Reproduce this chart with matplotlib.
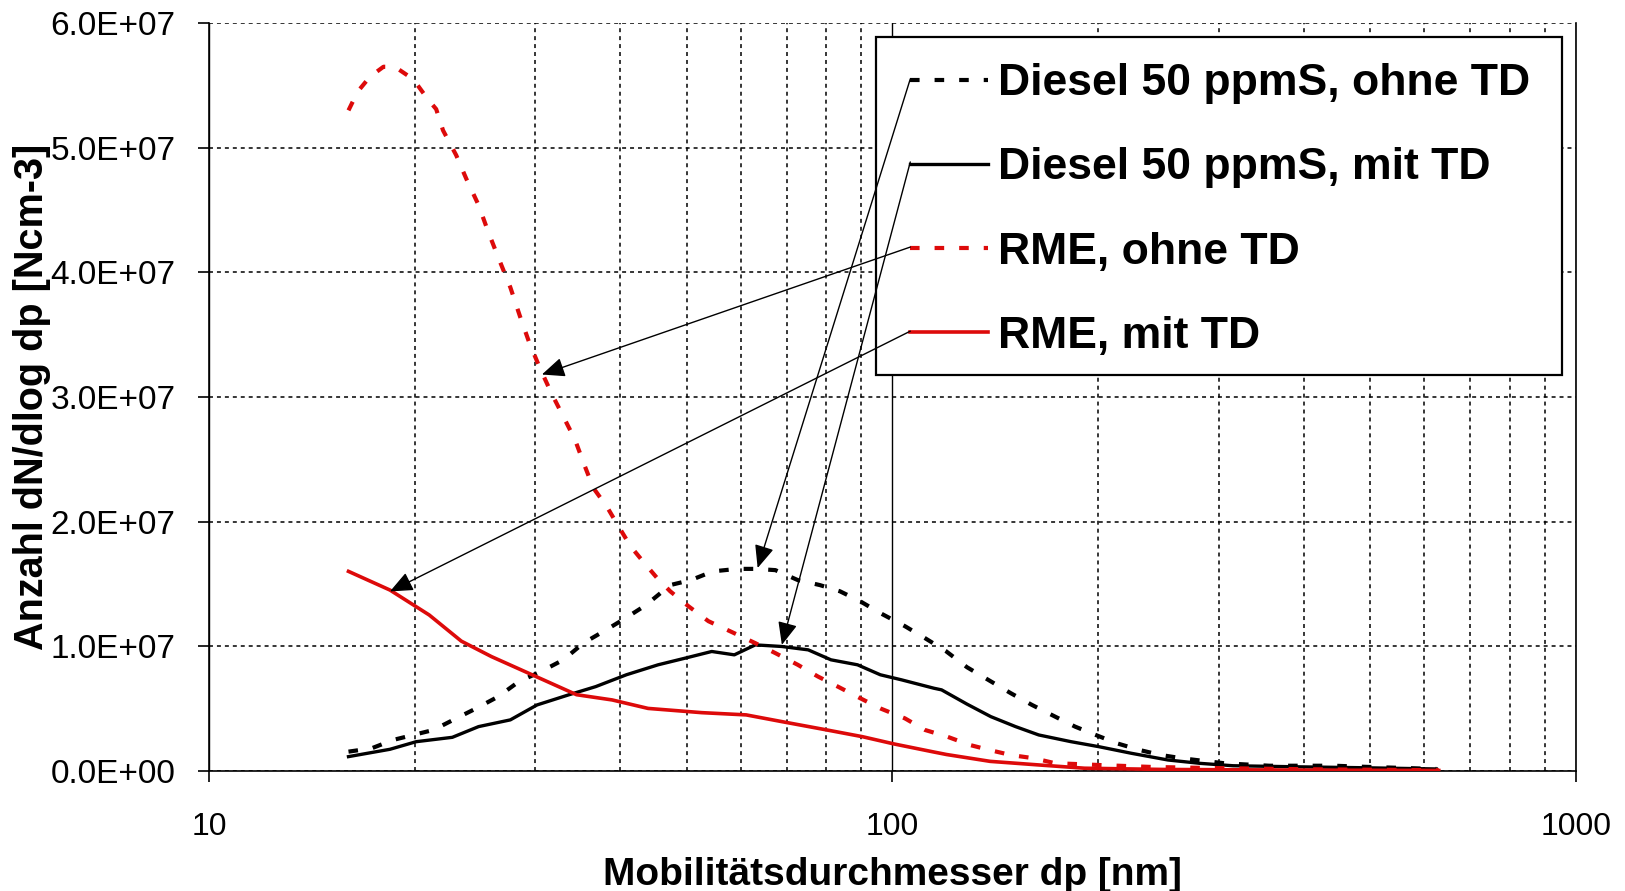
import matplotlib
matplotlib.use('Agg')
import matplotlib.pyplot as plt
from matplotlib.patches import Rectangle
from matplotlib.ticker import FuncFormatter, LogLocator, NullFormatter

plt.rcParams['font.family'] = ['Liberation Sans', 'DejaVu Sans']

# Diesel 50 ppmS, ohne TD
dp_diesel_ohne = [16.0, 17.3, 18.6, 19.9, 21.3, 23.0, 24.6, 26.5, 28.4, 30.6,
                  33.0, 35.3, 38.1, 40.7, 43.6, 47.3, 50.7, 54.6, 59.3, 63.0,
                  67.4, 72.7, 78.3, 83.8, 89.7, 96.0, 104.3, 111.6, 119.6, 128.6,
                  138.8, 149, 160, 173, 185, 200, 213, 230, 247, 265,
                  284, 307, 356, 443, 487, 625]
n_diesel_ohne = [0.153, 0.18, 0.247, 0.287, 0.327, 0.42, 0.50, 0.595, 0.715, 0.796,
                 0.89, 1.024, 1.13, 1.225, 1.33, 1.49, 1.53, 1.60, 1.62, 1.62,
                 1.61, 1.53, 1.49, 1.44, 1.36, 1.265, 1.16, 1.064, 0.962, 0.83,
                 0.722, 0.622, 0.528, 0.434, 0.354, 0.279, 0.22, 0.166, 0.126, 0.10,
                 0.08, 0.059, 0.04, 0.04, 0.032, 0.014]

# Diesel 50 ppmS, mit TD
dp_diesel_mit = [16.0, 18.4, 20.1, 22.7, 24.8, 27.6, 30.2, 33.6, 36.8, 40.8,
                 45.4, 49.7, 54.4, 58.7, 63.0, 68.9, 75.3, 81.3, 88.9, 96.0,
                 103.0, 115, 118, 128.5, 139.3, 151.4, 163.7, 182.5, 200.4, 223.6,
                 253, 282, 315, 385, 487, 625]
n_diesel_mit = [0.113, 0.172, 0.233, 0.268, 0.354, 0.408, 0.528, 0.609, 0.675, 0.77,
                0.85, 0.903, 0.957, 0.93, 1.01, 0.997, 0.97, 0.89, 0.85, 0.77,
                0.73, 0.662, 0.649, 0.535, 0.434, 0.354, 0.287, 0.233, 0.193, 0.14,
                0.086, 0.059, 0.04, 0.032, 0.024, 0.014]

# RME, ohne TD
dp_rme_ohne = [16.0, 16.5, 17.2, 18.0, 18.7, 19.9, 20.9, 21.5, 22.0, 23.0,
               23.8, 24.8, 25.6, 26.5, 27.6, 28.5, 29.4, 30.5, 31.7, 32.8,
               34.3, 35.5, 36.5, 38.2, 39.6, 41.4, 43.3, 45.2, 47.3, 50.3,
               53.8, 58.0, 63.0, 67.4, 72.7, 77.8, 83.2, 89.7, 96.0, 104.3,
               111.6, 120.3, 129.7, 138.7, 149, 161, 173, 185, 200, 240,
               305, 400, 500, 630]
n_rme_ohne = [5.30, 5.45, 5.57, 5.65, 5.65, 5.55, 5.39, 5.31, 5.14, 4.94,
              4.75, 4.54, 4.33, 4.12, 3.88, 3.65, 3.44, 3.23, 3.03, 2.87,
              2.66, 2.44, 2.27, 2.12, 1.975, 1.80, 1.67, 1.55, 1.44, 1.32,
              1.20, 1.117, 1.024, 0.944, 0.85, 0.756, 0.675, 0.582, 0.50, 0.42,
              0.327, 0.273, 0.207, 0.166, 0.126, 0.10, 0.06, 0.054, 0.046, 0.03,
              0.02, 0.012, 0.008, 0.004]

# RME, mit TD
dp_rme_mit = [16.0, 18.4, 21.0, 23.4, 25.9, 29.7, 34.5, 38.9, 43.9, 52.6,
              61.1, 68.9, 80.2, 90.4, 100.5, 115, 120, 139, 164, 191,
              250, 400, 630]
n_rme_mit = [1.60, 1.45, 1.25, 1.04, 0.916, 0.77, 0.61, 0.568, 0.50, 0.466,
             0.448, 0.394, 0.327, 0.273, 0.215, 0.15, 0.13, 0.075, 0.046, 0.02,
             0.01, 0.005, 0.002]

labels = ['Diesel 50 ppmS, ohne TD', 'Diesel 50 ppmS, mit TD',
          'RME, ohne TD', 'RME, mit TD']

# arrows: tail at legend handle, tip on the curve (dp, value in 1e7)
arrow_tail_dp = [106.2, 106.2, 106.2, 106.2]
arrow_tail_n = [5.553, 4.886, 4.203, 3.528]
arrow_tip_dp = [63.5, 68.9, 30.7, 18.4]
arrow_tip_n = [1.627, 1.01, 3.18, 1.439]

red = '#dd0a0a'
scale = 1e7

fig = plt.figure(figsize=(16.25, 8.91), dpi=100)
ax = fig.add_axes([0.1286, 0.135, 0.8412, 0.839])

dash = (0, (2.3, 3.6))
ax.plot(dp_diesel_ohne, [v * scale for v in n_diesel_ohne], color='black', lw=3.0,
        linestyle=dash, label=labels[0], zorder=3)
ax.plot(dp_diesel_mit, [v * scale for v in n_diesel_mit], color='black', lw=2.4,
        label=labels[1], zorder=3)
ax.plot(dp_rme_ohne, [v * scale for v in n_rme_ohne], color=red, lw=3.0,
        linestyle=dash, label=labels[2], zorder=3)
ax.plot(dp_rme_mit, [v * scale for v in n_rme_mit], color=red, lw=2.6,
        label=labels[3], zorder=3)

ax.set_xscale('log')
ax.set_xlim(10, 1000)
ax.set_ylim(0, 6e7)
ax.set_yticks([i * 1e7 for i in range(7)])
ax.yaxis.set_major_formatter(FuncFormatter(lambda v, p: f'{v:.1E}'))
ax.xaxis.set_major_formatter(FuncFormatter(lambda v, p: f'{v:g}'))
ax.xaxis.set_minor_locator(LogLocator(base=10, subs=range(2, 10)))
ax.xaxis.set_minor_formatter(NullFormatter())

ax.grid(which='major', axis='y', color='black', lw=1.1, linestyle=(0, (2.6, 2.6)))
ax.grid(which='major', axis='x', color='black', lw=1.0, linestyle='-')
ax.grid(which='minor', axis='x', color='black', lw=1.1, linestyle=(0, (2.6, 2.6)))
ax.set_axisbelow(True)

ax.spines['top'].set_visible(False)
for s in ['left', 'bottom', 'right']:
    ax.spines[s].set_linewidth(1.2)
ax.tick_params(which='major', direction='out', length=8, width=1.2)
ax.tick_params(which='minor', length=0)
ax.tick_params(axis='x', labelsize=23, pad=22)
ax.tick_params(axis='y', labelsize=24, pad=16)

ax.set_xlabel('Mobilitätsdurchmesser dp [nm]', fontsize=28, fontweight='bold', labelpad=10.5)
ax.set_ylabel('Anzahl dN/dlog dp [Ncm-3]', fontsize=28.5, fontweight='bold', labelpad=0)

# legend frame drawn separately (wider horizontal padding than vertical)
frame = Rectangle((0.488, 0.5292), 0.5018, 0.452, transform=ax.transAxes,
                  facecolor='white', edgecolor='black', lw=1.6, zorder=4.5)
ax.add_patch(frame)

leg = ax.legend(loc='upper left', bbox_to_anchor=(0.4936, 0.9813),
                prop={'size': 32, 'weight': 'bold'}, frameon=False,
                handlelength=1.76, handletextpad=0.23, labelspacing=0.97,
                borderpad=0.59, borderaxespad=0)
leg.set_zorder(5)

for tdp, tn, hdp, hn in zip(arrow_tail_dp, arrow_tail_n, arrow_tip_dp, arrow_tip_n):
    ax.annotate('', xy=(hdp, hn * scale), xytext=(tdp, tn * scale),
                arrowprops=dict(arrowstyle='-|>,head_length=1.4,head_width=0.6',
                                color='black', lw=1.0, shrinkA=0, shrinkB=0),
                zorder=6)

fig.savefig('out.png', dpi=100)
